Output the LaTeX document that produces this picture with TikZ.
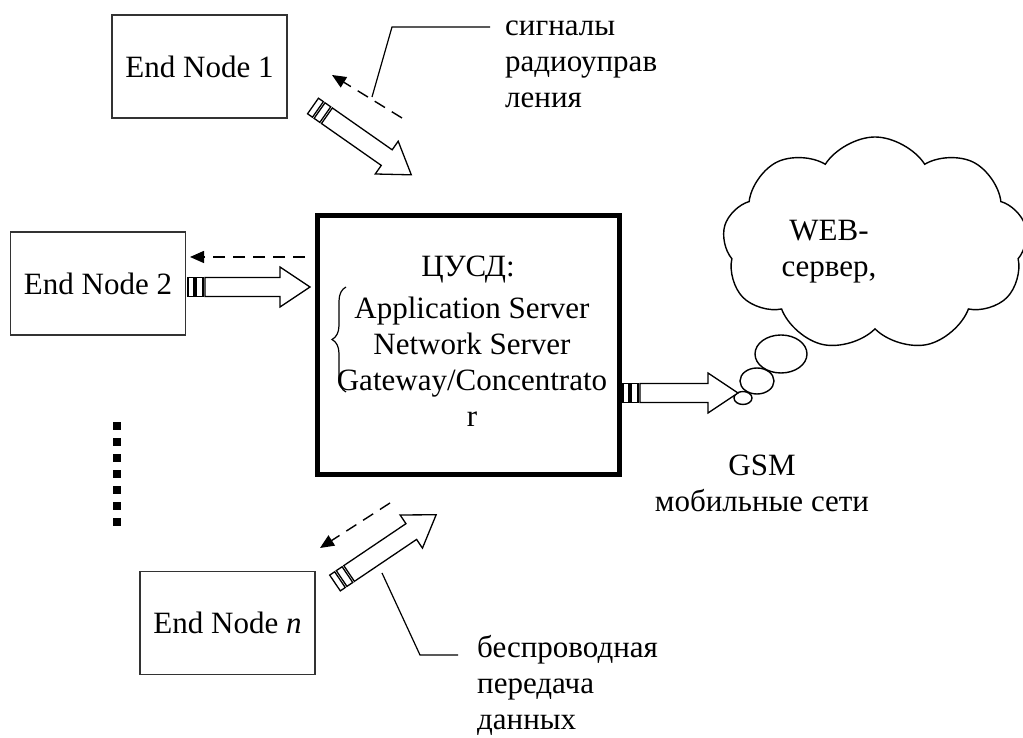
\documentclass[tikz,border=0pt]{standalone}
\usepackage{fontspec}
\setmainfont{Liberation Serif}
\usetikzlibrary{arrows.meta,shapes.symbols,shapes.geometric,decorations.pathreplacing,positioning}

\begin{document}
\begin{tikzpicture}[x=1pt, y=1pt,
    every node/.style={font=\fontsize{31}{36}\selectfont, inner sep=0pt},
    endnode/.style={draw=black!80, line width=1.1pt, minimum width=175pt, minimum height=103pt},
    dasharr/.style={-{Triangle[length=14pt,width=12pt]}, dash pattern=on 12pt off 8pt, line width=1.4pt},
    callout/.style={line width=1.2pt},
    bubble/.style={draw, ellipse, line width=1.4pt, fill=white},
    blockarr/.pic={
        \draw[line width=1.3pt, fill=white] (0,-9.5) rectangle (6,9.5);
        \draw[line width=1.3pt, fill=white] (8,-9.5) rectangle (15,9.5);
        \draw[line width=1.3pt, fill=white, line join=miter] (17,-9.5) -- ({#1-30},-9.5) -- ({#1-30},-20)
            -- (#1,0) -- ({#1-30},20) -- ({#1-30},9.5) -- (17,9.5) -- cycle;
    }
]
\clip (0,0) rectangle (1023,738);

% end devices
\node[endnode] (en1) at (199.5,671.5) {End Node 1};
\node[endnode] (en2) at (98,454.5) {End Node 2};
\node[endnode] (enn) at (227.5,115) {End Node \textit{n}};

% central unit (base = last line)
\node[draw, line width=4.5pt, minimum width=302pt, minimum height=259pt] (cusd) at (468.5,393) {};
\node[anchor=base] (cusdtitle) at (468,461) {ЦУСД:};
\node[anchor=base, align=center] (servers) at (472,311) {Application Server\\Network Server\\Gateway/Concentrato\\r};
\draw[decorate, decoration={brace, amplitude=14pt}, line width=1.2pt] (346,346) -- (346,451);

% web cloud
\node[cloud, draw, line width=1.4pt, cloud puffs=9, cloud puff arc=115, aspect=1.4,
    minimum width=305pt, minimum height=214pt] (web) at (875,494) {};
\node[anchor=base, align=center] (webtext) at (829,461) {WEB-\\сервер,};
\node[bubble, minimum width=52pt, minimum height=38pt] (b3) at (781,384) {};
\node[bubble, minimum width=34pt, minimum height=26pt] (b2) at (757,357) {};
\node[bubble, minimum width=18pt, minimum height=13pt] (b1) at (743,340) {};
\node[anchor=base, align=center] (gsm) at (762,226) {GSM\\мобильные сети};

% wide arrows
\coordinate (a1) at (313,632);
\coordinate (a2) at (188,451);
\coordinate (an) at (335,155);
\coordinate (a3) at (623,345);
\pic[rotate=-35] at (a1) {blockarr=120};
\pic at (a2) {blockarr=122};
\pic[rotate=34] at (an) {blockarr=122};
\pic at (a3) {blockarr=115};

% return signals
\coordinate (d1s) at (402,620); \coordinate (d1e) at (332,663);
\coordinate (d2s) at (305,481); \coordinate (d2e) at (190,481);
\coordinate (dns) at (390,235); \coordinate (dne) at (320,190);
\draw[dasharr] (d1s) -- (d1e);
\draw[dasharr] (d2s) -- (d2e);
\draw[dasharr] (dns) -- (dne);

% notes
\node[anchor=base west, align=left] (note1) at (505,630) {сигналы\\радиоуправ\\ления};
\node[anchor=base west, align=left] (note2) at (477,8) {беспроводная\\передача\\данных};
\coordinate (c1a) at (372,641); \coordinate (c1b) at (392,711); \coordinate (c1c) at (490,711);
\coordinate (c2a) at (382,165); \coordinate (c2b) at (420,83); \coordinate (c2c) at (458,83);
\draw[callout] (c1a) -- (c1b) -- (c1c);
\draw[callout] (c2a) -- (c2b) -- (c2c);

% dots
\foreach \i in {0,...,6}
    \fill (113,{308-16*\i}) rectangle ++(8,8);
\end{tikzpicture}
\end{document}
